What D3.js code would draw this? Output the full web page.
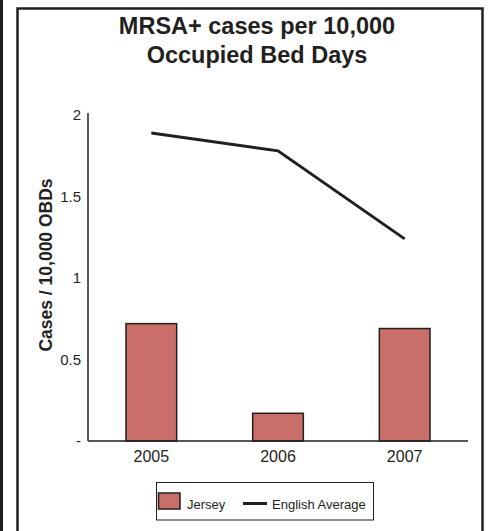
<!DOCTYPE html>
<html>
<head>
<meta charset="utf-8">
<script src="https://cdn.jsdelivr.net/npm/d3@7"></script>
<style>
  html, body { margin: 0; padding: 0; background: #fff; }
  svg { display: block; font-family: "Liberation Sans", Arial, sans-serif; }
</style>
</head>
<body>
<svg id="chart" width="489" height="531"></svg>
<script>
const categories = ["2005", "2006", "2007"];
const jerseyValues = [0.72, 0.17, 0.69];
const englishAverage = [1.89, 1.78, 1.24];
const yTickValues = [0, 0.5, 1, 1.5, 2];
const yTickLabels = ["-", "0.5", "1", "1.5", "2"];
const titleLines = ["MRSA+ cases per 10,000", "Occupied Bed Days"];
const yAxisTitle = "Cases / 10,000 OBDs";
const legendLabels = ["Jersey", "English Average"];

const svg = d3.select("#chart");
const barColor = "#c96e68";
const ink = "#231f20";

// frame
svg.append("line").attr("x1", 1.5).attr("x2", 1.5).attr("y1", 0).attr("y2", 531)
  .attr("stroke", ink).attr("stroke-width", 3);
svg.append("path").attr("d", "M17.5,540 L17.5,8.5 L482.5,8.5 L482.5,540")
  .attr("fill", "none").attr("stroke", ink).attr("stroke-width", 2.5);

// title
const title = svg.append("text").attr("text-anchor", "middle")
  .attr("font-weight", "bold").attr("font-size", 23.5).attr("fill", ink);
titleLines.forEach((t, i) => {
  title.append("tspan").attr("x", 257).attr("y", 34 + i * 28.5).text(t);
});

const x = d3.scaleBand().domain(categories).range([88, 468]).paddingInner(0.6).paddingOuter(0.3);
const y = d3.scaleLinear().domain([0, 2]).range([441, 115]);

// bars
svg.append("g").selectAll("rect").data(jerseyValues).join("rect")
  .attr("x", (d, i) => x(categories[i]))
  .attr("y", d => y(d))
  .attr("width", x.bandwidth())
  .attr("height", d => y(0) - y(d))
  .attr("fill", barColor).attr("stroke", ink).attr("stroke-width", 1.5);

// line
const line = d3.line()
  .x((d, i) => x(categories[i]) + x.bandwidth() / 2)
  .y(d => y(d));
svg.append("path").datum(englishAverage).attr("d", line)
  .attr("fill", "none").attr("stroke", ink).attr("stroke-width", 3);

// y axis
const yAxis = d3.axisLeft(y).tickValues(yTickValues)
  .tickFormat((d, i) => yTickLabels[i]).tickSize(0).tickPadding(7);
const yg = svg.append("g").attr("transform", "translate(88,0)").call(yAxis);
yg.select(".domain").attr("d", "M0,113V441").attr("stroke", ink).attr("stroke-width", 1.5);
yg.selectAll("text").attr("font-size", 15).attr("fill", ink).attr("font-family", "Liberation Sans, Arial, sans-serif");

// x axis
const xAxis = d3.axisBottom(x).tickSize(0).tickPadding(10);
const xg = svg.append("g").attr("transform", "translate(0,441)").call(xAxis);
xg.select(".domain").attr("d", "M88,0H468").attr("stroke", ink).attr("stroke-width", 1.5);
xg.selectAll("text").attr("font-size", 16).attr("fill", ink).attr("font-family", "Liberation Sans, Arial, sans-serif");

// y axis title
svg.append("text").attr("transform", "translate(51.5,265) rotate(-90)")
  .attr("text-anchor", "middle").attr("font-weight", "bold").attr("font-size", 17.5)
  .attr("fill", ink).text(yAxisTitle);

// legend
const lg = svg.append("g");
lg.append("rect").attr("x", 156.5).attr("y", 482.5).attr("width", 217).attr("height", 37.5)
  .attr("fill", "#fff").attr("stroke", ink).attr("stroke-width", 1);
lg.append("rect").attr("x", 158.5).attr("y", 493).attr("width", 21.5).attr("height", 16)
  .attr("fill", barColor).attr("stroke", ink).attr("stroke-width", 1.5);
lg.append("text").attr("x", 187).attr("y", 509).attr("font-size", 13).attr("fill", ink).text(legendLabels[0]);
lg.append("line").attr("x1", 243).attr("x2", 267).attr("y1", 503.5).attr("y2", 503.5)
  .attr("stroke", ink).attr("stroke-width", 3);
lg.append("text").attr("x", 272).attr("y", 509).attr("font-size", 13).attr("fill", ink).text(legendLabels[1]);
</script>
</body>
</html>
